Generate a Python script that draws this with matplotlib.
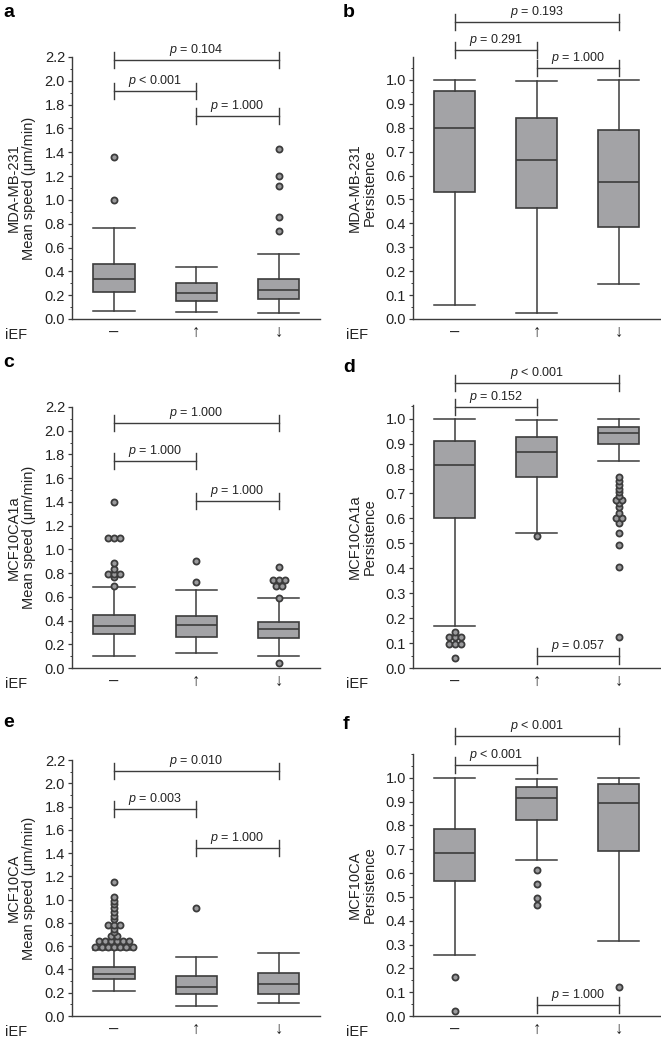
import matplotlib
matplotlib.use("Agg")
import matplotlib.pyplot as plt
from matplotlib.ticker import MultipleLocator, FormatStrFormatter, FixedLocator

plt.rcParams["font.family"] = ["Liberation Sans", "DejaVu Sans"]
plt.rcParams["mathtext.fontset"] = "custom"
plt.rcParams["mathtext.it"] = "Liberation Sans:italic"
plt.rcParams["mathtext.rm"] = "Liberation Sans"

groups = ["\u2013", "\u2191", "\u2193"]

# box stats per group: (whisker low, q1, median, q3, whisker high)
a_box = [(0.067, 0.230, 0.339, 0.462, 0.764), (0.062, 0.148, 0.215, 0.305, 0.434), (0.050, 0.165, 0.246, 0.333, 0.546)]
a_out = [[1.00, 1.357], [], [0.739, 0.856, 1.117, 1.20, 1.43]]
a_p = ["< 0.001", "= 1.000", "= 0.104"]  # 1-2, 2-3, 1-3

b_box = [(0.060, 0.531, 0.800, 0.954, 1.0), (0.027, 0.466, 0.665, 0.839, 0.994), (0.147, 0.384, 0.575, 0.791, 1.0)]
b_out = [[], [], []]
b_p = ["= 0.291", "= 1.000", "= 0.193"]

c_box = [(0.102, 0.283, 0.354, 0.447, 0.679), (0.124, 0.263, 0.365, 0.441, 0.659), (0.102, 0.252, 0.325, 0.388, 0.591)]
c_out = [[0.693, 0.764, 0.795, 0.795, 0.795, 0.835, 0.888, 1.10, 1.10, 1.10, 1.40],
         [0.721, 0.90],
         [0.045, 0.591, 0.69, 0.69, 0.741, 0.741, 0.741, 0.851]]
c_p = ["= 1.000", "= 1.000", "= 1.000"]

d_box = [(0.168, 0.600, 0.814, 0.911, 1.0), (0.540, 0.766, 0.868, 0.928, 0.995), (0.830, 0.899, 0.942, 0.968, 1.0)]
d_out = [[0.041, 0.098, 0.098, 0.098, 0.124, 0.124, 0.124, 0.144],
         [0.528],
         [0.124, 0.405, 0.493, 0.54, 0.58, 0.60, 0.60, 0.62, 0.645, 0.66, 0.675, 0.675,
          0.69, 0.705, 0.72, 0.735, 0.75, 0.766]]
d_p = ["= 0.152", "= 0.057", "< 0.001"]

e_box = [(0.217, 0.320, 0.360, 0.420, 0.563), (0.083, 0.186, 0.246, 0.346, 0.506), (0.109, 0.186, 0.272, 0.372, 0.539)]
e_out = [[0.59, 0.59, 0.59, 0.59, 0.59, 0.59, 0.59,
          0.645, 0.645, 0.645, 0.645, 0.645, 0.645,
          0.69, 0.69, 0.72, 0.75, 0.785, 0.785, 0.785,
          0.83, 0.86, 0.89, 0.93, 0.96, 0.99, 1.02, 1.15],
         [0.929],
         []]
e_p = ["= 0.003", "= 1.000", "= 0.010"]

f_box = [(0.258, 0.565, 0.686, 0.786, 1.0), (0.653, 0.822, 0.916, 0.961, 0.997), (0.315, 0.692, 0.894, 0.975, 1.0)]
f_out = [[0.02, 0.162], [0.465, 0.494, 0.555, 0.613], [0.122]]
f_p = ["< 0.001", "= 1.000", "< 0.001"]

speed = "Mean speed (\u03bcm/min)"
panels = [
    # letter, box, outliers, p, ylabel, rect px (l, t, r, b), ylim top, tick max, major, minor, bracket y, letter px
    ("a", a_box, a_out, a_p, "MDA-MB-231\n" + speed, (72, 57, 320, 319), 2.2, 2.2, 0.2, 0.1, [1.915, 1.705, 2.175], (3, 17)),
    ("b", b_box, b_out, b_p, "MDA-MB-231\nPersistence", (413, 57, 660, 319), 1.096, 1.0, 0.1, 0.05, [1.125, 1.05, 1.243], (343, 17)),
    ("c", c_box, c_out, c_p, "MCF10CA1a\n" + speed, (72, 407, 320, 668), 2.2, 2.2, 0.2, 0.1, [1.745, 1.408, 2.068], (3, 367)),
    ("d", d_box, d_out, d_p, "MCF10CA1a\nPersistence", (413, 405, 660, 668), 1.055, 1.0, 0.1, 0.05, [1.047, 0.047, 1.142], (343, 372)),
    ("e", e_box, e_out, e_p, "MCF10CA\n" + speed, (72, 760, 320, 1016), 2.2, 2.2, 0.2, 0.1, [1.776, 1.441, 2.107], (3, 727)),
    ("f", f_box, f_out, f_p, "MCF10CA\nPersistence", (413, 754, 660, 1016), 1.1, 1.0, 0.1, 0.05, [1.053, 0.046, 1.174], (343, 729)),
]

W, H = 661, 1040
fig = plt.figure(figsize=(W / 100, H / 100), dpi=100)

dark = "#3c3c3c"
txt_c = "#222222"
fill = "#a3a3a6"
pairs = [(1, 2), (2, 3), (1, 3)]

for letter, box, out, pv, ylab, (l, t, r, b), ytop, tmax, major, minor, bry, (lx, ly) in panels:
    ax = fig.add_axes([l / W, 1 - b / H, (r - l) / W, (b - t) / H])
    stats = [dict(whislo=s[0], q1=s[1], med=s[2], q3=s[3], whishi=s[4], fliers=[]) for s in box]
    ax.bxp(stats, positions=[1, 2, 3], widths=0.5, patch_artist=True, showfliers=False,
           boxprops=dict(facecolor=fill, edgecolor=dark, linewidth=1.2),
           medianprops=dict(color=dark, linewidth=1.2),
           whiskerprops=dict(color=dark, linewidth=1.1),
           capprops=dict(color=dark, linewidth=1.1), capwidths=0.5)

    # outliers, equal values spread sideways
    for i, vals in enumerate(out):
        for v in sorted(set(vals)):
            n = vals.count(v)
            for k in range(n):
                x = i + 1 + (k - (n - 1) / 2) * 0.075
                ax.plot(x, v, "o", ms=4.4, mfc="#9a9a9c", mec=dark, mew=1.3, zorder=4, clip_on=False)

    ax.set_xlim(0.49, 3.5)
    ax.set_ylim(0, ytop)
    ax.spines[["top", "right"]].set_visible(False)
    for s in ("left", "bottom"):
        ax.spines[s].set_color(dark)
        ax.spines[s].set_linewidth(1.0)
    ax.spines["left"].set_bounds(0, ytop)

    n_major = int(round(tmax / major))
    ax.yaxis.set_major_locator(FixedLocator([k * major for k in range(n_major + 1)]))
    ax.yaxis.set_major_formatter(FormatStrFormatter("%.1f"))
    ax.yaxis.set_minor_locator(MultipleLocator(minor))
    ax.tick_params(axis="y", which="major", length=3, width=0.9, color=dark, labelsize=10.5,
                   labelcolor=txt_c, pad=2)
    ax.tick_params(axis="y", which="minor", length=1.8, width=0.7, color=dark)
    ax.set_xticks([1, 2, 3])
    ax.set_xticklabels(groups)
    ax.tick_params(axis="x", length=0, labelsize=12, labelcolor=txt_c, pad=4)
    ax.text(-0.27, -16 / (b - t), "iEF", transform=ax.transAxes,
            ha="left", va="center", fontsize=10.5, color=txt_c)

    ax.set_ylabel(ylab, fontsize=10.5, color=txt_c, linespacing=1.1)
    ax.yaxis.set_label_coords(-0.145, 0.5)

    # brackets
    dy = 8 * ytop / (b - t)
    for (x0, x1), y, txt in zip(pairs, bry, pv):
        ax.plot([x0, x1], [y, y], color=dark, lw=1.0, clip_on=False)
        ax.plot([x0, x0], [y - dy, y + dy], color=dark, lw=1.0, clip_on=False)
        ax.plot([x1, x1], [y - dy, y + dy], color=dark, lw=1.0, clip_on=False)
        ax.annotate("$p$ " + txt, xy=((x0 + x1) / 2, y), xytext=(0, 1.5), textcoords="offset points",
                    ha="center", va="bottom", fontsize=9, color=txt_c, annotation_clip=False)

    fig.text(lx / W, 1 - ly / H, letter, fontsize=14, fontweight="bold", ha="left", va="baseline")

fig.savefig("out.png", dpi=100)
